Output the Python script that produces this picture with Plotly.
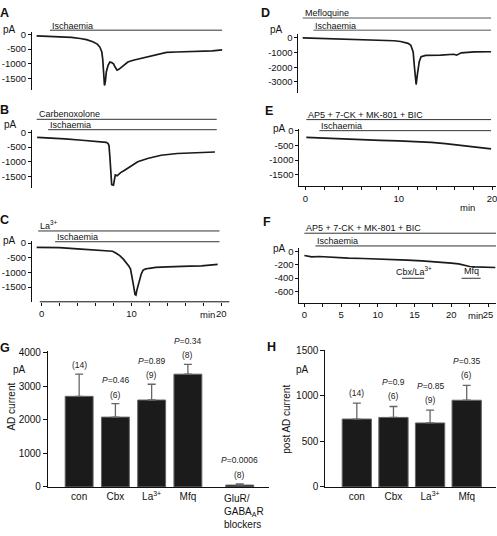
import plotly.graph_objects as go

W, H = 497, 536
FONT = "Liberation Sans, Arial, Helvetica, sans-serif"

# ---------------- data ----------------
# Panel A (control)
A_t = [-0.56, 0.5, 1.5, 2.4, 3.3, 4.3, 5.0, 5.7, 6.2, 6.5, 6.7, 6.8, 6.9, 7.0, 7.1, 7.2, 7.4, 7.6,
       7.8, 8.0, 8.2, 8.4, 8.6, 8.9, 9.3, 9.6, 10.2, 10.9, 11.6, 12.4, 13.2, 13.9, 15.0, 16.5, 18.0, 19.0, 20.1]
A_i = [-50, -60, -70, -80, -100, -140, -180, -250, -330, -440, -600, -830, -1390, -1740, -1600, -1280, -1050,
       -940, -960, -1000, -1120, -1220, -1190, -1110, -1000, -940, -880, -830, -780, -700, -650, -610, -600,
       -590, -570, -560, -530]
# Panel B (carbenoxolone)
B_t = [-0.5, 1.0, 2.6, 4.5, 6.0, 7.2, 7.4, 7.5, 7.6, 7.7, 7.8, 8.0, 8.1, 8.2, 8.4, 8.8, 9.2, 9.6, 10.2,
       10.7, 11.8, 13.3, 15.1, 17.0, 19.3]
B_i = [-170, -190, -220, -270, -300, -340, -380, -450, -830, -1390, -1780, -1800, -1650, -1450, -1480,
       -1370, -1300, -1220, -1100, -1000, -890, -780, -720, -700, -670]
# Panel C (La3+)
C_t = [-0.55, 2, 4, 6, 7.0, 7.9, 8.3, 8.7, 9.1, 9.4, 9.7, 9.9, 10.05, 10.2, 10.4, 10.5, 10.6, 10.75,
       10.9, 11.1, 11.3, 11.6, 12.0, 12.7, 14.0, 15.3, 16.5, 17.8, 18.8, 19.6]
C_i = [-150, -160, -200, -230, -250, -280, -350, -430, -550, -650, -780, -890, -1100, -1390, -1750, -1770,
       -1610, -1450, -1250, -1050, -920, -880, -860, -830, -810, -790, -790, -780, -760, -730]
# Panel D (mefloquine)
D_t = [-0.29, 2.4, 6.0, 9.5, 10.2, 10.6, 11.0, 11.3, 11.55, 11.7, 11.87, 12.0, 12.2, 12.4, 12.9, 14.5,
       15.9, 16.2, 16.4, 16.7, 18.1, 19.9]
D_i = [-10, -60, -120, -200, -250, -300, -380, -510, -960, -2070, -3180, -2510, -1620, -1290, -1200,
       -1180, -1120, -1180, -1120, -1020, -960, -950]
# Panel E (GluR/GABA blockers)
E_t = [0.1, 2, 4, 6, 8, 10, 12, 13.5, 15, 16.5, 18, 19, 19.9]
E_i = [-230, -260, -290, -310, -330, -350, -370, -400, -440, -490, -540, -590, -620]
# Panel F (blockers, then Cbx/La3+ and Mfq)
F_t = [0, 1, 2, 4, 6, 8, 10, 12, 14, 16, 17.5, 18.5, 20, 21, 21.8, 22.5, 23.2, 24, 25, 26]
F_i = [-60, -80, -75, -90, -100, -105, -110, -120, -130, -140, -150, -165, -175, -185, -210, -225,
       -230, -235, -235, -240]

# Panel G: AD current
G_cats = ["con", "Cbx", "La<sup>3+</sup>", "Mfq", "GluR/<br>GABA<sub>A</sub>R<br>blockers"]
G_mean = [2700, 2080, 2590, 3360, 55]
G_err = [660, 400, 470, 290, 35]
G_n = ["(14)", "(6)", "(9)", "(8)", "(8)"]
G_p = ["", "0.46", "0.89", "0.34", "0.0006"]

# Panel H: post AD current
H_cats = ["con", "Cbx", "La<sup>3+</sup>", "Mfq"]
H_mean = [746, 764, 703, 953]
H_err = [174, 120, 142, 163]
H_n = ["(14)", "(6)", "(9)", "(6)"]
H_p = ["", "0.9", "0.85", "0.35"]

# axis tick values
TICKS_1500 = [0, -500, -1000, -1500]
TICKS_3000 = [0, -1000, -2000, -3000]
TICKS_600 = [0, -200, -400, -600]
TIME20_TICKS = [0, 10, 20]
TIME25_TICKS = [0, 5, 10, 15, 20, 25]
G_TICKS = [0, 1000, 2000, 3000, 4000]
H_TICKS = [0, 500, 1000, 1500]

# ---------------- helpers ----------------
def X(p):
    return p / W

def Y(p):
    return 1 - p / H

fig = go.Figure()
TRACE_COL = "#1a1a1a"

layout = dict(
    width=W, height=H, margin=dict(l=0, r=0, t=0, b=0),
    paper_bgcolor="white", plot_bgcolor="rgba(0,0,0,0)",
    showlegend=False, font=dict(family=FONT, size=10, color="#111"),
)

tickfont = dict(family=FONT, size=9.5, color="#111")

def trace_panel(n, t, i, xdom, trange, ydom, yrange, yticks, xticks=None, minor_dt=None, xline=False):
    fig.add_trace(go.Scatter(x=t, y=i, mode="lines", line=dict(color=TRACE_COL, width=1.7),
                             xaxis=f"x{n}", yaxis=f"y{n}", hoverinfo="skip"))
    xa = dict(domain=[X(xdom[0]), X(xdom[1])], range=trange, anchor=f"y{n}",
              showgrid=False, zeroline=False, showline=xline, linecolor="#111", linewidth=1)
    if xticks is None:
        xa.update(showticklabels=False, ticks="")
    else:
        xa.update(tickmode="array", tickvals=xticks, ticktext=[str(v) for v in xticks], ticks="outside",
                  ticklen=3, tickwidth=1, tickcolor="#111", tickfont=tickfont,
                  ticklabeloverflow="allow",
                  minor=dict(tick0=0, dtick=minor_dt, ticks="outside", ticklen=3, tickwidth=1,
                             tickcolor="#111", showgrid=False))
    ya = dict(domain=[Y(ydom[1]), Y(ydom[0])], range=yrange, anchor=f"x{n}",
              showgrid=False, zeroline=False, showline=True, linecolor="#111", linewidth=1,
              tickmode="array", tickvals=yticks, ticktext=[str(v) for v in yticks],
              ticks="outside", ticklen=3, tickwidth=1, tickcolor="#111", tickfont=tickfont,
              ticklabeloverflow="allow")
    layout[f"xaxis{n}"] = xa
    layout[f"yaxis{n}"] = ya

# left column time axis: 0 min at 41.7px, 9.0 px/min, y-axis at 32px
LT = [(32 - 41.7) / 9.0, (232 - 41.7) / 9.0]
# right column (D,E): 0 at 306px, 9.35 px/min, axis at 299px
RT = [(299 - 306) / 9.35, (497 - 306) / 9.35]
# F: 0 at 305px, 7.36 px/min
FT = [(300 - 305) / 7.36, (497 - 305) / 7.36]

trace_panel(1, A_t, A_i, (32, 232), LT, (28, 87), [-1900, 66.7], TICKS_1500)
trace_panel(2, B_t, B_i, (32, 232), LT, (128, 187), [-1900, 66.7], TICKS_1500)
trace_panel(3, C_t, C_i, (32, 232), LT, (241, 303), [-2000, 66.7], TICKS_1500, TIME20_TICKS, 2)
trace_panel(4, D_t, D_i, (299, 497), RT, (30, 90), [-3767, 233], TICKS_3000)
trace_panel(5, E_t, E_i, (300, 497), [(300 - 306) / 9.35, (497 - 306) / 9.35], (126.7, 185),
            [-1890, 53], TICKS_1500, TIME20_TICKS, 2, xline=True)
trace_panel(6, F_t, F_i, (300, 497), FT, (248, 304), [-769, 54], TICKS_600, TIME25_TICKS, 2.5, xline=True)

shapes = []
annots = []

def hline(xref, t0, t1, ypx, col="#333"):
    shapes.append(dict(type="line", xref=xref, yref="paper", x0=t0, x1=t1, y0=Y(ypx), y1=Y(ypx),
                       line=dict(color=col, width=1)))

def text(x, y, s, xref="paper", size=9, xanchor="left", yanchor="middle", **kw):
    annots.append(dict(x=x if xref != "paper" else X(x), y=Y(y), xref=xref, yref="paper", text=s,
                       showarrow=False, xanchor=xanchor, yanchor=yanchor,
                       font=dict(family=FONT, size=size, color=kw.pop("color", "#111")), **kw))

# C x-axis line (starts slightly right of the y axis)
hline("x3", -0.2, 20.9, 303, col="#111")

# treatment bars
hline("x", 0.92, 20.1, 25.7); text(0.92, 21, "Ischaemia", xref="x")
hline("x2", -0.55, 19.5, 116.7); text(-0.55, 111.5, "Carbenoxolone", xref="x2")
hline("x2", 0.73, 19.5, 127.3); text(0.73, 122.5, "Ischaemia", xref="x2")
hline("x3", -0.38, 19.8, 230.7); text(-0.38, 224.5, "La<sup>3+</sup>", xref="x3")
hline("x3", 1.5, 19.8, 241.7); text(1.5, 236.7, "Ischaemia", xref="x3")
hline("x4", -0.29, 19.9, 13.3, col="#555"); text(-0.29, 8.3, "Mefloquine", xref="x4")
hline("x4", 0.86, 19.9, 25.7, col="#555"); text(0.86, 21, "Ischaemia", xref="x4")
hline("x5", 0.1, 19.9, 117); text(0.1, 112, "AP5 + 7-CK + MK-801 + BIC", xref="x5")
hline("x5", 1.5, 19.9, 128.3); text(1.5, 123.5, "Ischaemia", xref="x5")
hline("x6", 0.0, 26.1, 233); text(0.0, 228, "AP5 + 7-CK + MK-801 + BIC", xref="x6")
hline("x6", 1.5, 26.1, 246); text(1.5, 241, "Ischaemia", xref="x6")
hline("x6", 13.3, 16.3, 279); text(14.9, 271.5, "Cbx/La<sup>3+</sup>", xref="x6", xanchor="center")
hline("x6", 21.4, 24.0, 279); text(22.7, 271.5, "Mfq", xref="x6", xanchor="center")

# panel letters
for lab, x, y in [("A", 5, 8), ("B", 5, 107), ("C", 5, 220), ("D", 266, 8), ("E", 270, 108),
                  ("F", 268, 222), ("G", 5, 350), ("H", 272, 349)]:
    text(x, y, f"<b>{lab}</b>", size=12.5, xanchor="center")

# pA labels
for x, y in [(10, 25), (11, 121.5), (10, 240), (277, 25), (280, 126.5), (280, 249), (20, 372), (303, 372)]:
    text(x, y, "pA", size=10, xanchor="center")

# min labels
for x, y in [(208, 316), (468, 207), (476, 317)]:
    text(x, y, "min", size=9.5, xanchor="center")

# ---------------- bar charts ----------------
G_XPOS = [0, 1, 2, 3, 4.43]
H_XPOS = [0, 1, 2, 3]
fig.add_trace(go.Bar(x=G_XPOS, y=G_mean, width=0.77, xaxis="x7", yaxis="y7",
                     marker=dict(color="#1b1b1b", line=dict(color="#666", width=1)),
                     error_y=dict(type="data", symmetric=False, array=G_err, arrayminus=[0] * len(G_err),
                                  color="#666", thickness=1.3, width=4), hoverinfo="skip"))
fig.add_trace(go.Bar(x=H_XPOS, y=H_mean, width=0.8, xaxis="x8", yaxis="y8",
                     marker=dict(color="#1b1b1b", line=dict(color="#666", width=1)),
                     error_y=dict(type="data", symmetric=False, array=H_err, arrayminus=[0] * len(H_err),
                                  color="#666", thickness=1.3, width=4), hoverinfo="skip"))

barfont = dict(family=FONT, size=10, color="#111")
# first four categories as tick labels; the multi-line last label is left-aligned as in the figure
layout["xaxis7"] = dict(domain=[X(48), X(270)], range=[-0.862, 5.25], anchor="y7", showgrid=False,
                        zeroline=False, showline=True, linecolor="#111", linewidth=1.2, ticks="",
                        tickmode="array", tickvals=G_XPOS[:4], ticktext=G_cats[:4], tickfont=barfont)
annots.append(dict(x=X(222.5), y=Y(496.5), xref="paper", yref="paper", text=G_cats[4], showarrow=False,
                   xanchor="left", yanchor="top", align="left", font=barfont))
layout["yaxis7"] = dict(domain=[Y(492), Y(353)], range=[0, 4058], anchor="x7", showgrid=False,
                        zeroline=False, showline=True, linecolor="#111", linewidth=1, ticks="outside",
                        ticklen=4, tickcolor="#111", tickmode="array", tickvals=G_TICKS,
                        ticktext=[str(v) for v in G_TICKS], tickfont=barfont)
layout["xaxis8"] = dict(domain=[X(326), X(497)], range=[-0.86, 3.8], anchor="y8", showgrid=False,
                        zeroline=False, showline=True, linecolor="#111", linewidth=1.2, ticks="",
                        tickmode="array", tickvals=H_XPOS, ticktext=H_cats, tickfont=barfont)
layout["yaxis8"] = dict(domain=[Y(492), Y(352.7)], range=[0, 1500], anchor="x8", showgrid=False,
                        zeroline=False, showline=True, linecolor="#111", linewidth=1, ticks="outside",
                        ticklen=4, tickcolor="#111", tickmode="array", tickvals=H_TICKS,
                        ticktext=[str(v) for v in H_TICKS], tickfont=barfont)

def bar_annots(xref, yref, xpos, mean, err, ns, ps, dn, dp):
    for x, m, e, n, p in zip(xpos, mean, err, ns, ps):
        annots.append(dict(x=x, y=m + e, xref=xref, yref=yref, text=n, showarrow=False,
                           xanchor="center", yanchor="middle", yshift=dn,
                           font=dict(family=FONT, size=8.5, color="#222")))
        if p:
            annots.append(dict(x=x, y=m + e, xref=xref, yref=yref, text=f"<i>P</i>={p}",
                               showarrow=False, xanchor="center", yanchor="middle", yshift=dp,
                               font=dict(family=FONT, size=8.5, color="#222")))

bar_annots("x7", "y7", G_XPOS, G_mean, G_err, G_n, G_p, 9, 23.5)
bar_annots("x8", "y8", H_XPOS, H_mean, H_err, H_n, H_p, 10.5, 24.5)

annots.append(dict(x=X(12), y=Y(410), xref="paper", yref="paper", text="AD current", textangle=-90,
                   xanchor="center", yanchor="middle", showarrow=False,
                   font=dict(family=FONT, size=10, color="#111")))
annots.append(dict(x=X(287), y=Y(423), xref="paper", yref="paper", text="post AD current", textangle=-90,
                   xanchor="center", yanchor="middle", showarrow=False,
                   font=dict(family=FONT, size=10, color="#111")))

layout["shapes"] = shapes
layout["annotations"] = annots
fig.update_layout(**layout)
fig.write_html("out.html", config={"displayModeBar": False},
               post_script="document.body.style.margin='0px';document.body.style.overflow='hidden';")
